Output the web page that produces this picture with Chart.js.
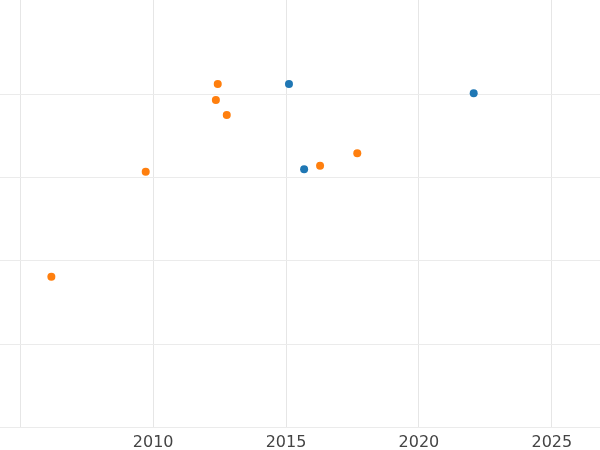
<!DOCTYPE html>
<html>
<head>
<meta charset="utf-8">
<script src="https://cdn.jsdelivr.net/npm/chart.js@4"></script>
<style>
  html, body { margin: 0; padding: 0; background: #fff; overflow: hidden; width: 600px; height: 450px; }
  #wrap { position: absolute; left: -5px; top: -5px; width: 610px; height: 462px; }
</style>
</head>
<body>
<div id="wrap"><canvas id="chart"></canvas></div>
<script>
// values
const blueX = [2015.11, 2015.68, 2022.06];
const blueY = [4.12, 3.10, 4.01];
const orangeX = [2012.43, 2012.36, 2012.77, 2009.72, 2016.28, 2017.68, 2006.17];
const orangeY = [4.12, 3.93, 3.75, 3.07, 3.14, 3.29, 1.81];
const xTicks = [2005, 2010, 2015, 2020, 2025];
const xLabels = ['', '2010', '2015', '2020', '2025'];

const toPoints = (xs, ys) => xs.map((x, i) => ({ x: x, y: ys[i] }));

new Chart(document.getElementById('chart'), {
  type: 'scatter',
  data: {
    datasets: [
      { data: toPoints(blueX, blueY), backgroundColor: '#1f77b4', borderWidth: 0, pointRadius: 4 },
      { data: toPoints(orangeX, orangeY), backgroundColor: '#ff7f0e', borderWidth: 0, pointRadius: 4 }
    ]
  },
  options: {
    responsive: true,
    maintainAspectRatio: false,
    animation: false,
    layout: { padding: 0 },
    plugins: { legend: { display: false }, tooltip: { enabled: false } },
    scales: {
      x: {
        type: 'linear',
        min: 2004.2,
        max: 2026.85,
        afterBuildTicks: (axis) => { axis.ticks = xTicks.map(v => ({ value: v })); },
        border: { display: false },
        grid: { color: '#e6e6e6', lineWidth: 1, drawTicks: false },
        ticks: {
          color: '#444',
          font: { family: 'DejaVu Sans', size: 16 },
          padding: 5,
          callback: (v) => xLabels[xTicks.indexOf(v)]
        }
      },
      y: {
        min: 0,
        max: 5.14,
        border: { display: false },
        grid: { color: '#ebebeb', lineWidth: 1, drawTicks: false },
        ticks: { display: false, stepSize: 1 }
      }
    }
  }
});
</script>
</body>
</html>
